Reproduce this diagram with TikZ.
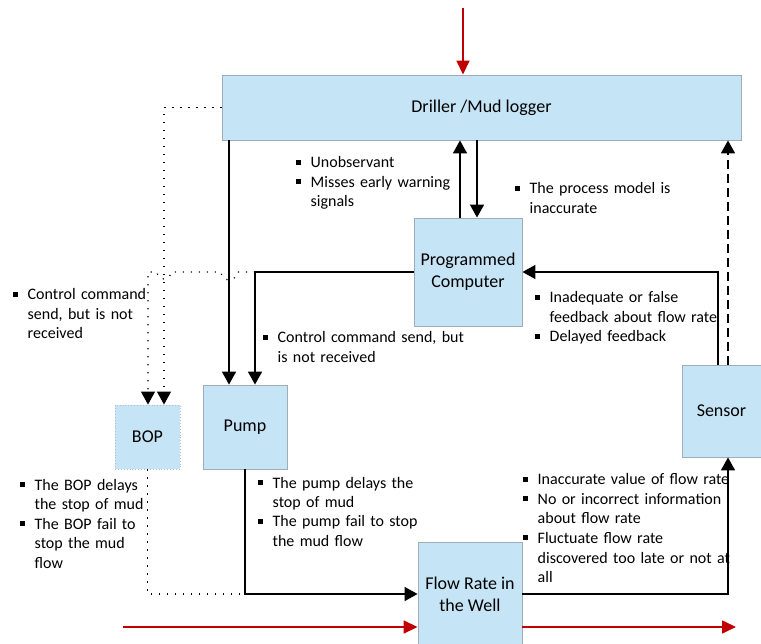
\documentclass[tikz,border=0pt]{standalone}
\usepackage{fontspec}
\setmainfont{Carlito}
\usetikzlibrary{arrows.meta}
\definecolor{boxfill}{RGB}{197,228,246}
\definecolor{boxline}{RGB}{160,172,182}
\definecolor{mudred}{RGB}{192,0,0}
\newcommand\bul{\makebox[14.5pt][l]{\rule[3.2pt]{5.2pt}{5.2pt}}}
\newcommand\ind{\hspace*{14.5pt}}
\tikzset{
  blk/.style={rectangle, fill=boxfill, draw=boxline, line width=0.9pt, align=center,
    inner sep=0pt, font=\fontsize{18}{22}\selectfont},
  note/.style={anchor=base west, inner sep=0pt, text width=260pt, align=left,
    font=\fontsize{16}{19.5}\selectfont},
  ctl/.style={line width=1.7pt, -{Triangle[length=13pt,width=14pt]}},
  dotline/.style={line width=1.2pt, dash pattern=on 1.2pt off 6.8pt,
    -{Triangle[length=13pt,width=14pt]}},
  dotplain/.style={line width=1.2pt, dash pattern=on 1.2pt off 6.8pt},
  dashline/.style={line width=1.7pt, dash pattern=on 9pt off 5pt,
    -{Triangle[length=13pt,width=14pt]}},
  mud/.style={mudred, line width=1.6pt, -{Triangle[length=14pt,width=13pt]}}
}
\begin{document}
\begin{tikzpicture}[x=1pt,y=-1pt]
\useasboundingbox (0,0) rectangle (761,644);

% controllers, actuators, sensor and controlled process
\node[blk, minimum width=519pt, minimum height=65pt] (drl) at (481.5,107.5) {Driller /Mud logger};
\node[blk, minimum width=108pt, minimum height=108pt] (pc) at (468,272) {Programmed\\Computer};
\node[blk, minimum width=84pt, minimum height=84pt] (pump) at (245,427) {Pump};
\node[blk, draw=boxline!80, dotted, minimum width=65pt, minimum height=64pt] (bop) at (147.5,437) {BOP};
\node[blk, minimum width=79pt, minimum height=92pt] (sen) at (721.5,411) {Sensor};
\node[blk, minimum width=104pt, minimum height=104pt] (flw) at (470,594) {Flow Rate in\\the Well};

% column positions of the vertical connectors
\coordinate (xa) at (229,0);
\coordinate (xb) at (255,0);
\coordinate (xc) at (460,0);
\coordinate (xd) at (477,0);
\coordinate (xe) at (718,0);
\coordinate (xf) at (728,0);
\coordinate (xg) at (164,0);
\coordinate (xh) at (148,0);

% mud flow
\coordinate (redtop) at (463,8);
\coordinate (redin) at (123,627);
\coordinate (redout) at (736,627);
\draw[mud] (redtop) -- (redtop |- drl.north);
\draw[mud] (redin) -- (redin -| flw.west);
\draw[mud] (redin -| flw.east) -- (redout);

% control actions and feedback
\draw[ctl] (xa |- drl.south) -- (xa |- pump.north);
\draw[ctl] (pc.west) -| (xb |- pump.north);
\draw[ctl] (xc |- pc.north) -- (xc |- drl.south);
\draw[ctl] (xd |- drl.south) -- (xd |- pc.north);
\draw[ctl] (xe |- sen.north) |- (pc.east);
\draw[dashline] (xf |- sen.north) -- (xf |- drl.south);
\draw[ctl] (flw.east) -| (xf |- sen.south);
\draw[ctl] (pump.south) |- (flw.west);

% BOP commands and effect
\draw[dotline] (drl.west) -| (xg |- bop.north);
\draw[dotline] (xb |- pc.west) -- (237,272) arc[start angle=0, end angle=180, radius=8]
  -- (171,272) arc[start angle=0, end angle=180, radius=7] -- (xh |- pc.west) -- (xh |- bop.north);
\draw[dotplain] (bop.south) |- (pump.south |- flw.west);

% unsafe control actions and causal factors
\node[note] (n1) at (296,168) {\bul Unobservant\\ \bul Misses early warning\\ \ind signals};
\node[note] (n2) at (515,194) {\bul The process model is\\ \ind inaccurate};
\node[note] (n3) at (13,300) {\bul Control command\\ \ind send, but is not\\ \ind received};
\node[note] (n4) at (263,343) {\bul Control command send, but\\ \ind is not received};
\node[note] (n5) at (535,303) {\bul Inadequate or false\\ \ind feedback about flow rate\\ \bul Delayed feedback};
\node[note] (n6) at (20,490) {\bul The BOP delays\\ \ind the stop of mud\\ \bul The BOP fail to\\ \ind stop the mud\\ \ind flow};
\node[note] (n7) at (258,488) {\bul The pump delays the\\ \ind stop of mud\\ \bul The pump fail to stop\\ \ind the mud flow};
\node[note] (n8) at (523,485) {\bul Inaccurate value of flow rate\\ \bul No or incorrect information\\ \ind about flow rate\\ \bul Fluctuate flow rate\\ \ind discovered too late or not at\\ \ind all};
\end{tikzpicture}
\end{document}
